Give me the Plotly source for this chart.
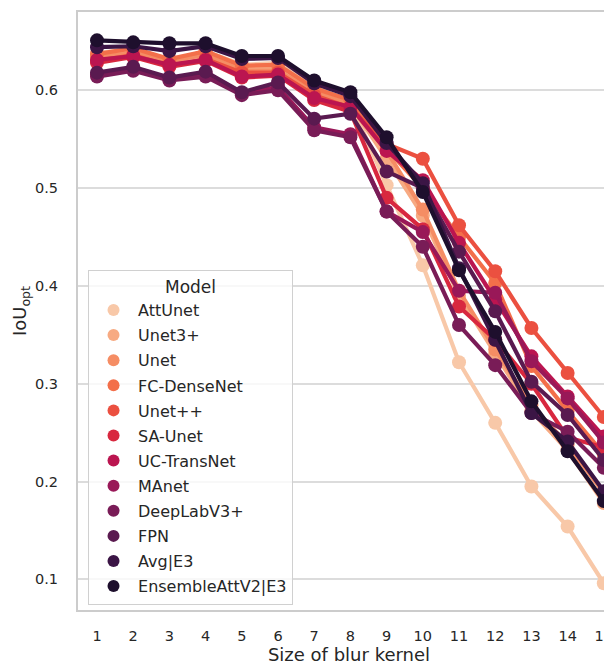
import plotly.graph_objects as go

kernel_sizes = list(range(1, 16))
x_tick_labels = [str(k) for k in kernel_sizes]
y_tick_values = [0.1, 0.2, 0.3, 0.4, 0.5, 0.6]

models = ["AttUnet", "Unet3+", "Unet", "FC-DenseNet", "Unet++", "SA-Unet",
          "UC-TransNet", "MAnet", "DeepLabV3+", "FPN", "Avg|E3", "EnsembleAttV2|E3"]

att_unet      = [0.638, 0.642, 0.630, 0.640, 0.626, 0.628, 0.603, 0.588, 0.503, 0.421, 0.322, 0.260, 0.195, 0.154, 0.096]
unet3p        = [0.636, 0.640, 0.628, 0.638, 0.622, 0.624, 0.600, 0.585, 0.530, 0.472, 0.390, 0.330, 0.272, 0.232, 0.178]
unet          = [0.634, 0.638, 0.630, 0.636, 0.620, 0.620, 0.598, 0.586, 0.538, 0.478, 0.395, 0.335, 0.278, 0.238, 0.188]
fc_densenet   = [0.637, 0.643, 0.632, 0.640, 0.625, 0.626, 0.602, 0.590, 0.540, 0.500, 0.450, 0.403, 0.318, 0.272, 0.228]
unetpp        = [0.630, 0.636, 0.625, 0.632, 0.618, 0.618, 0.595, 0.582, 0.545, 0.530, 0.462, 0.415, 0.357, 0.311, 0.266]
sa_unet       = [0.628, 0.634, 0.624, 0.630, 0.613, 0.615, 0.590, 0.578, 0.490, 0.458, 0.379, 0.345, 0.300, 0.245, 0.235]
uc_transnet   = [0.631, 0.635, 0.626, 0.631, 0.614, 0.616, 0.592, 0.583, 0.538, 0.508, 0.444, 0.386, 0.328, 0.287, 0.246]
manet         = [0.616, 0.622, 0.611, 0.618, 0.597, 0.603, 0.562, 0.555, 0.476, 0.455, 0.395, 0.393, 0.323, 0.285, 0.240]
deeplabv3p    = [0.614, 0.620, 0.610, 0.614, 0.595, 0.600, 0.559, 0.552, 0.476, 0.440, 0.360, 0.319, 0.270, 0.251, 0.214]
fpn           = [0.618, 0.624, 0.613, 0.619, 0.598, 0.608, 0.571, 0.576, 0.517, 0.500, 0.435, 0.374, 0.302, 0.268, 0.222]
avg_e3        = [0.644, 0.645, 0.640, 0.645, 0.632, 0.633, 0.607, 0.594, 0.546, 0.505, 0.418, 0.345, 0.270, 0.241, 0.190]
ensemble_att  = [0.651, 0.649, 0.648, 0.648, 0.635, 0.635, 0.610, 0.598, 0.552, 0.496, 0.416, 0.353, 0.282, 0.231, 0.180]

series = [att_unet, unet3p, unet, fc_densenet, unetpp, sa_unet,
          uc_transnet, manet, deeplabv3p, fpn, avg_e3, ensemble_att]

colors = ["#f8c8a8", "#f7aa82", "#f58d64", "#f36f4a", "#eb5040", "#d8283f",
          "#bb1550", "#991858", "#791c57", "#5a1a50", "#3b1545", "#1e0f2d"]

TEXT = "#262626"
FONT = "DejaVu Sans"

fig = go.Figure()
for name, vals, col in zip(models, series, colors):
    fig.add_trace(go.Scatter(
        x=kernel_sizes, y=vals, mode="lines+markers", name=name,
        line=dict(color=col, width=4.2), marker=dict(color=col, size=14),
        showlegend=False, hoverinfo="x+y+name"))
for name, col in zip(models, colors):
    fig.add_trace(go.Scatter(
        x=[None], y=[None], mode="markers", name=name,
        marker=dict(color=col, size=15), showlegend=True, legendgroup=name))

fig.update_layout(
    width=612, height=663,
    margin=dict(l=70, r=0, t=4, b=61),
    paper_bgcolor="white", plot_bgcolor="white",
    font=dict(family=FONT, color=TEXT, size=14),
    legend=dict(
        x=0.0185, y=0.5686, xanchor="left", yanchor="top",
        bgcolor="rgba(255,255,255,0.8)", bordercolor="#d0d0d0", borderwidth=1,
        font=dict(family=FONT, size=16, color=TEXT),
        title=dict(text="Model", side="top center", font=dict(family=FONT, size=17, color=TEXT)),
        tracegroupgap=1.3, itemsizing="constant", itemwidth=39,
        entrywidth=176, entrywidthmode="pixels",
    ),
    xaxis=dict(
        range=[0.475, 15.447], tickmode="array", tickvals=kernel_sizes, ticktext=x_tick_labels,
        showgrid=False, zeroline=False, ticklabeloverflow="allow",
        showline=True, linecolor="#cccccc", linewidth=2, mirror=True,
        ticks="outside", ticklen=12, tickcolor="rgba(0,0,0,0)",
        tickfont=dict(family=FONT, size=14.5, color=TEXT),
        title=dict(text="Size of blur kernel", font=dict(family=FONT, size=18, color=TEXT), standoff=3),
    ),
    yaxis=dict(
        range=[0.0687, 0.680], tickmode="array", tickvals=y_tick_values,
        ticktext=[f"{v:.1f}" for v in y_tick_values],
        showgrid=True, gridcolor="#dcdcdc", gridwidth=1.5, zeroline=False,
        showline=True, linecolor="#cccccc", linewidth=2, mirror=False,
        ticks="outside", ticklen=15, tickcolor="rgba(0,0,0,0)",
        tickfont=dict(family=FONT, size=14.5, color=TEXT),
        title=dict(text="IoU<sub>opt</sub>", font=dict(family=FONT, size=18, color=TEXT), standoff=4),
    ),
)

fig.write_html("out.html")
